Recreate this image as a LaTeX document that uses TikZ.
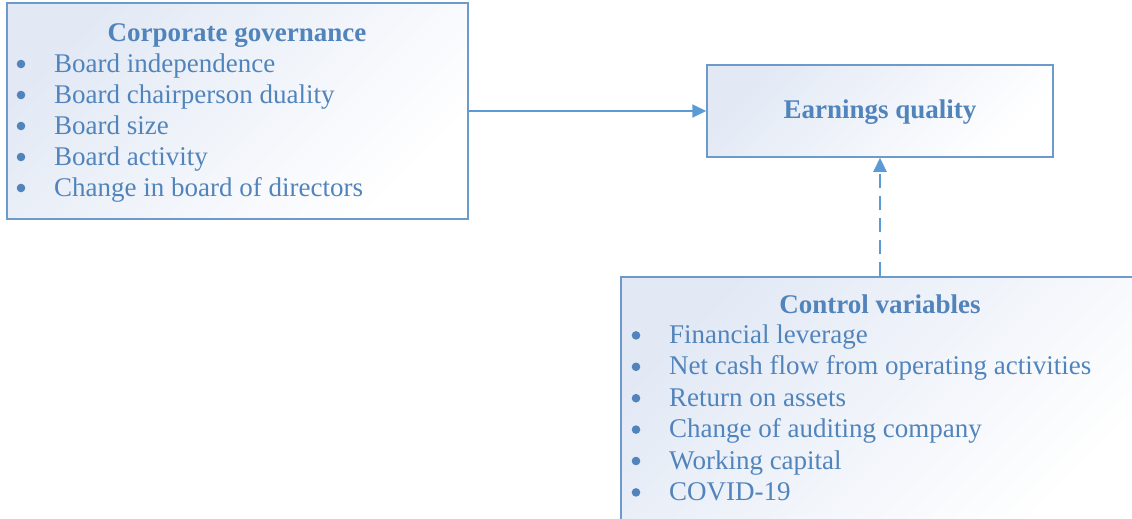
\documentclass[tikz,border=0pt]{standalone}
\usepackage{fontspec}
\setmainfont{Liberation Serif}
\usepackage{xcolor}
\usetikzlibrary{arrows.meta}

\definecolor{boxline}{RGB}{108,154,203}
\definecolor{boxtint}{RGB}{226,233,245}
\definecolor{txtblue}{RGB}{82,132,188}
\definecolor{arrowblue}{RGB}{91,155,213}

\begin{document}
\begin{tikzpicture}[
		x=1pt, y=-1pt, % 1 unit = 1 px, y going down
		box/.style={
			draw=boxline, line width=1.5pt,
			top color=boxtint, middle color=boxtint!20!white, bottom color=white,
			shading angle=45,
			inner sep=0pt, anchor=center
		},
		head/.style={
			font=\fontsize{27}{31}\selectfont\bfseries, text=txtblue,
			anchor=base, inner sep=0pt
		},
		item/.style={
			font=\fontsize{27}{31}\selectfont, text=txtblue,
			anchor=base west, inner sep=0pt
		},
		dot/.style={fill=txtblue},
		link/.style={
			-{Triangle[length=14pt, width=13pt]}, arrowblue, line width=2pt
		}
	]
	\useasboundingbox (0,0) rectangle (1132,519);
	
	% Ba khung
	\node[box, minimum width=461pt, minimum height=216pt] (cg) at (237.5,111) {};
	\node[box, minimum width=346pt, minimum height=92pt] (eq) at (880,111) {};
	\node[box, minimum width=518pt, minimum height=256pt] (cv) at (880,405) {};
	
	% Khung trái
	\node[head] (cgtitle) at (237,42) {Corporate governance};
	\foreach \txt [count=\i] in {Board independence, Board chairperson duality,
		Board size, Board activity, Change in board of directors} {
		\fill[dot] (21, {41+31*\i-8}) circle (4.3pt);
		\node[item] (cg\i) at (54, {41+31*\i}) {\txt};
	}
	
	% Khung giữa
	\node[head] (eqtitle) at (880,118) {Earnings quality};
	
	% Khung dưới
	\node[head] (cvtitle) at (880,313) {Control variables};
	\foreach \txt [count=\i] in {Financial leverage,
		Net cash flow from operating activities, Return on assets,
		Change of auditing company, Working capital, COVID-19} {
		\fill[dot] (636, {312+31.4*\i-8}) circle (4.3pt);
		\node[item] (cv\i) at (669, {312+31.4*\i}) {\txt};
	}
	
	% Mũi tên
	\draw[link] (cg.east) -- (eq.west);
	\draw[link, dash pattern=on 14pt off 8pt] (cv.north) -- (eq.south);
	
\end{tikzpicture}
\end{document}
